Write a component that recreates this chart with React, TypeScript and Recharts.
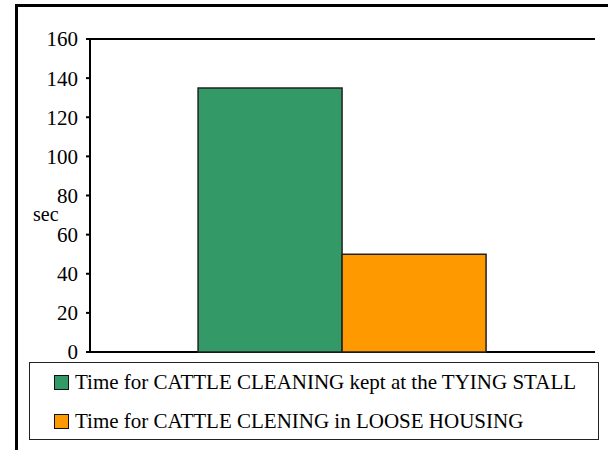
import React from 'react';
import { BarChart, Bar, XAxis, YAxis, CartesianGrid, Legend } from 'recharts';

const categories = ['Cattle cleaning'];
const tyingStall = [135];
const looseHousing = [50];
const yTicks = [0, 20, 40, 60, 80, 100, 120, 140, 160];
const seriesNames = [
  'Time for CATTLE CLEANING kept at the TYING STALL',
  'Time for CATTLE CLENING in LOOSE HOUSING',
];
const seriesColors = ['#339966', '#FF9900'];

const data = categories.map((c, i) => ({ name: c, tying: tyingStall[i], loose: looseHousing[i] }));

const FONT = 'Liberation Serif, Tinos, Times New Roman, DejaVu Serif, serif';

const LegendBox = (props: any) => {
  const payload = props.payload || [];
  return (
    <div
      style={{
        marginLeft: 29,
        width: 570,
        height: 78,
        border: '1.5px solid #222',
        boxSizing: 'border-box',
        fontFamily: FONT,
        fontSize: 21,
        color: '#000',
        paddingTop: 4,
      }}
    >
      {payload.map((p: any, i: number) => (
        <div key={i} style={{ display: 'flex', alignItems: 'center', height: 30, marginTop: i === 0 ? 0 : 9 }}>
          <span
            style={{
              display: 'inline-block',
              width: 15,
              height: 15,
              boxSizing: 'border-box',
              marginLeft: 24,
              marginRight: 6,
              background: p.color,
              border: '1.5px solid #111',
            }}
          />
          <span>{p.value}</span>
        </div>
      ))}
    </div>
  );
};

export default function App() {
  return (
    <div style={{ position: 'absolute', left: 0, top: 0, width: 609, height: 450, background: '#fff' }}>
      <BarChart
        width={609}
        height={450}
        data={data}
        margin={{ top: 39, right: 14, left: 0, bottom: 10 }}
        barCategoryGap="21.4%"
        barGap={0}
      >
        <CartesianGrid horizontal vertical={false} stroke="#000" strokeWidth={2} />
        <XAxis dataKey="name" hide />
        <YAxis
          yAxisId="left"
          width={90}
          domain={[0, 160]}
          ticks={yTicks}
          interval={0}
          tickSize={4}
          tickMargin={8}
          axisLine={{ stroke: '#000', strokeWidth: 2 }}
          tickLine={{ stroke: '#000', strokeWidth: 2 }}
          tick={{ fill: '#000', fontSize: 21, fontFamily: FONT }}
          label={{ value: 'sec', position: 'insideLeft', offset: 33, dy: 18, style: { fill: '#000', fontSize: 20, fontFamily: FONT } }}
        />
        <YAxis
          yAxisId="right"
          orientation="right"
          width={0}
          domain={[0, 160]}
          tick={false}
          tickLine={false}
          axisLine={{ stroke: '#666', strokeWidth: 2 }}
        />
        <Bar yAxisId="left" dataKey="tying" name={seriesNames[0]} fill={seriesColors[0]} stroke="#222" strokeWidth={1.5} isAnimationActive={false} />
        <Bar yAxisId="left" dataKey="loose" name={seriesNames[1]} fill={seriesColors[1]} stroke="#222" strokeWidth={1.5} isAnimationActive={false} />
        <Legend
          verticalAlign="bottom"
          align="left"
          content={<LegendBox />}
          wrapperStyle={{ left: 0, width: 609, paddingTop: 10 }}
        />
      </BarChart>
      <div style={{ position: 'absolute', left: 15, top: 4, width: 593, height: 3, background: '#000' }} />
      <div style={{ position: 'absolute', left: 15, top: 4, width: 3, height: 446, background: '#000' }} />
    </div>
  );
}
